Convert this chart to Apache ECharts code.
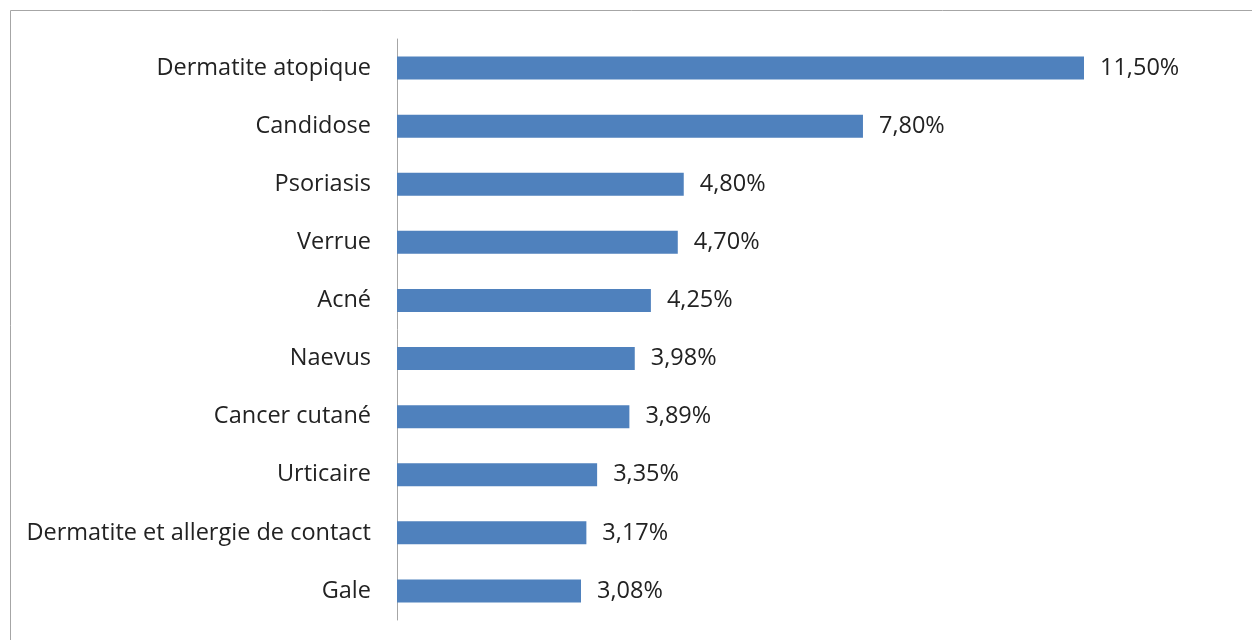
<!DOCTYPE html>
<html>
<head>
<meta charset="utf-8">
<script src="https://cdn.jsdelivr.net/npm/echarts@6/dist/echarts.min.js"></script>
<style>
  html, body { margin: 0; padding: 0; background: #fff; }
  #chart { width: 1252px; height: 640px; }
</style>
</head>
<body>
<div id="chart"></div>
<script>
const categories = [
  'Dermatite atopique',
  'Candidose',
  'Psoriasis',
  'Verrue',
  'Acné',
  'Naevus',
  'Cancer cutané',
  'Urticaire',
  'Dermatite et allergie de contact',
  'Gale'
];
const values = [11.50, 7.80, 4.80, 4.70, 4.25, 3.98, 3.89, 3.35, 3.17, 3.08];

const font = 'Open Sans';

echarts.init(document.getElementById('chart'), null, {
  renderer: 'canvas',
  width: 1252,
  height: 640,
}).setOption({
  animation: false,
  backgroundColor: '#fff',
  graphic: [{
    type: 'rect',
    shape: { x: 10.5, y: 10.5, width: 1260, height: 640 },
    style: { fill: 'none', stroke: '#a6a6a6', lineWidth: 1 },
    silent: true,
  }],
  grid: {
    left: 397,
    top: 39,
    width: 687,
    height: 581,
  },
  xAxis: {
    type: 'value',
    min: 0,
    max: 11.5,
    show: false,
  },
  yAxis: {
    type: 'category',
    data: categories,
    inverse: true,
    axisLine: { show: true, lineStyle: { color: '#a6a6a6', width: 1 } },
    axisTick: { show: false },
    axisLabel: {
      margin: 26,
      fontSize: 23.5,
      fontFamily: font,
      color: '#222',
    },
  },
  series: [{
    type: 'bar',
    data: values,
    barWidth: 23,
    itemStyle: { color: '#4f81bd' },
    label: {
      show: true,
      position: 'right',
      distance: 16,
      fontSize: 23.5,
      fontFamily: font,
      color: '#222',
      formatter: (p) => p.value.toFixed(2).replace('.', ',') + '%',
    },
  }],
});
</script>
</body>
</html>
